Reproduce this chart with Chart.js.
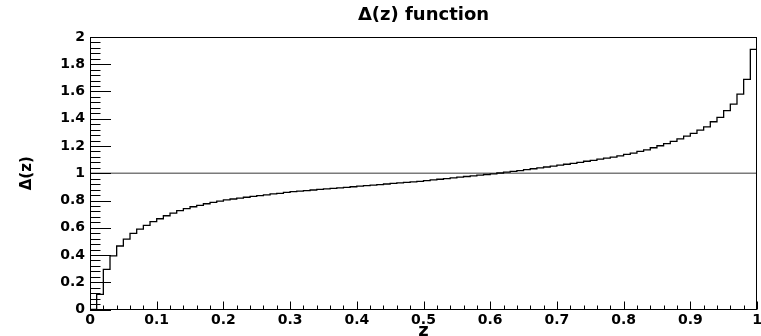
<!DOCTYPE html>
<html>
<head>
<meta charset="utf-8">
<script src="https://cdn.jsdelivr.net/npm/chart.js@4.4.1/dist/chart.umd.min.js"></script>
<style>
  html, body { margin: 0; padding: 0; background: #fff; }
  canvas { display: block; }
</style>
</head>
<body>
<canvas id="c" width="761" height="336"></canvas>
<script>
// ---- data ----
const nBins = 100;
const zMin = 0;
const zMax = 1;
const deltaValues = [
  0.000, 0.111, 0.295, 0.393, 0.466, 0.517, 0.559, 0.590, 0.618, 0.645,
  0.666, 0.688, 0.708, 0.725, 0.740, 0.754, 0.764, 0.776, 0.786, 0.796,
  0.804, 0.811, 0.818, 0.824, 0.830, 0.836, 0.842, 0.848, 0.853, 0.859,
  0.865, 0.869, 0.873, 0.877, 0.881, 0.885, 0.889, 0.893, 0.897, 0.901,
  0.905, 0.909, 0.913, 0.917, 0.921, 0.925, 0.929, 0.933, 0.937, 0.941,
  0.946, 0.951, 0.956, 0.961, 0.966, 0.971, 0.976, 0.981, 0.986, 0.991,
  0.996, 1.002, 1.008, 1.014, 1.020, 1.027, 1.033, 1.040, 1.046, 1.053,
  1.060, 1.066, 1.073, 1.080, 1.088, 1.095, 1.103, 1.111, 1.119, 1.128,
  1.139, 1.148, 1.160, 1.172, 1.187, 1.202, 1.217, 1.234, 1.253, 1.273,
  1.293, 1.317, 1.341, 1.378, 1.410, 1.459, 1.508, 1.581, 1.689, 1.909
];
const refLineValue = 1;
const xTickValues = [0, 0.1, 0.2, 0.3, 0.4, 0.5, 0.6, 0.7, 0.8, 0.9, 1];
const xTickLabels = ['0', '0.1', '0.2', '0.3', '0.4', '0.5', '0.6', '0.7', '0.8', '0.9', '1'];
const yTickValues = [0, 0.2, 0.4, 0.6, 0.8, 1, 1.2, 1.4, 1.6, 1.8, 2];
const yTickLabels = ['0', '0.2', '0.4', '0.6', '0.8', '1', '1.2', '1.4', '1.6', '1.8', '2'];
const titleText = 'Δ(z) function';
const xTitle = 'z';
const yTitle = 'Δ(z)';

// ---- histogram outline: point at each bin low edge, plus the upper edge of the last bin ----
const binWidth = (zMax - zMin) / nBins;
const histPoints = deltaValues.map((v, i) => ({ x: zMin + i * binWidth, y: v }));
histPoints.push({ x: zMax, y: deltaValues[deltaValues.length - 1] });

const FONT = "'DejaVu Sans', 'Liberation Sans', Arial, sans-serif";
Chart.defaults.color = '#000';

const frameTicks = {
  id: 'frameTicks',
  afterDatasetsDraw(chart) {
    const { ctx, chartArea: a, scales: { x, y } } = chart;
    ctx.save();
    ctx.strokeStyle = '#000';
    ctx.lineWidth = 1;
    ctx.beginPath();
    // y ticks (inside): major every 0.2, minor every 0.04
    for (let i = 0; i <= 50; i++) {
      const py = Math.round(y.getPixelForValue(i * 0.04)) + 0.5;
      const len = (i % 5 === 0) ? 21 : 10.5;
      ctx.moveTo(a.left, py);
      ctx.lineTo(a.left + len, py);
    }
    // x ticks (inside): major every 0.1, minor every 0.02
    for (let i = 0; i <= 50; i++) {
      const px = Math.round(x.getPixelForValue(i * 0.02)) + 0.5;
      const len = (i % 5 === 0) ? 8 : 4;
      ctx.moveTo(px, a.bottom);
      ctx.lineTo(px, a.bottom - len);
    }
    ctx.stroke();
    // frame
    ctx.strokeRect(Math.round(a.left) + 0.5, Math.round(a.top) + 0.5,
                   Math.round(a.right - a.left) - 1, Math.round(a.bottom - a.top) - 1);
    ctx.restore();
  }
};

new Chart(document.getElementById('c'), {
  type: 'line',
  data: {
    datasets: [
      {
        label: 'hist',
        data: histPoints,
        stepped: 'before',
        borderColor: '#000',
        borderWidth: 1.3,
        pointRadius: 0,
        fill: false,
        tension: 0
      },
      {
        label: 'ref',
        data: [{ x: zMin, y: refLineValue }, { x: zMax, y: refLineValue }],
        borderColor: '#7a7a7a',
        borderWidth: 1.5,
        pointRadius: 0,
        fill: false
      }
    ]
  },
  options: {
    responsive: false,
    animation: false,
    devicePixelRatio: 1,
    layout: { padding: { left: 0, right: 4, top: 0, bottom: 0 } },
    plugins: {
      legend: { display: false },
      tooltip: { enabled: false },
      title: {
        display: true,
        text: titleText,
        fullSize: false,
        font: { family: FONT, size: 18, weight: 'bold' },
        color: '#000',
        padding: { top: 5, bottom: 10.4 }
      }
    },
    scales: {
      x: {
        type: 'linear',
        min: zMin,
        max: zMax,
        grid: { display: false, drawTicks: false },
        border: { display: false },
        afterBuildTicks: (s) => { s.ticks = xTickValues.map(v => ({ value: v })); },
        afterFit: (s) => { s.height = 26.5; s.paddingLeft = 0; s.paddingRight = 0; },
        ticks: {
          autoSkip: false,
          maxRotation: 0,
          padding: 2,
          font: { family: FONT, size: 14, weight: 'bold' },
          color: '#000',
          callback: (v) => { const i = xTickValues.findIndex(t => Math.abs(t - v) < 1e-9); return i >= 0 ? xTickLabels[i] : ''; }
        },
        title: {
          display: true,
          text: xTitle,
          font: { family: FONT, size: 18, weight: 'bold' },
          color: '#000',
          padding: { top: 0, bottom: -6 }
        }
      },
      y: {
        type: 'linear',
        min: 0,
        max: 2,
        grid: { display: false, drawTicks: false },
        border: { display: false },
        afterBuildTicks: (s) => { s.ticks = yTickValues.map(v => ({ value: v })); },
        afterFit: (s) => { s.width = 90; s.paddingTop = 0; s.paddingBottom = 0; },
        ticks: {
          autoSkip: false,
          padding: 5,
          font: { family: FONT, size: 14, weight: 'bold' },
          color: '#000',
          callback: (v) => { const i = yTickValues.findIndex(t => Math.abs(t - v) < 1e-9); return i >= 0 ? yTickLabels[i] : ''; }
        },
        title: {
          display: true,
          text: yTitle,
          font: { family: FONT, size: 15, weight: 'bold' },
          color: '#000',
          padding: { top: 18, bottom: 0 }
        }
      }
    }
  },
  plugins: [frameTicks]
});
</script>
</body>
</html>
